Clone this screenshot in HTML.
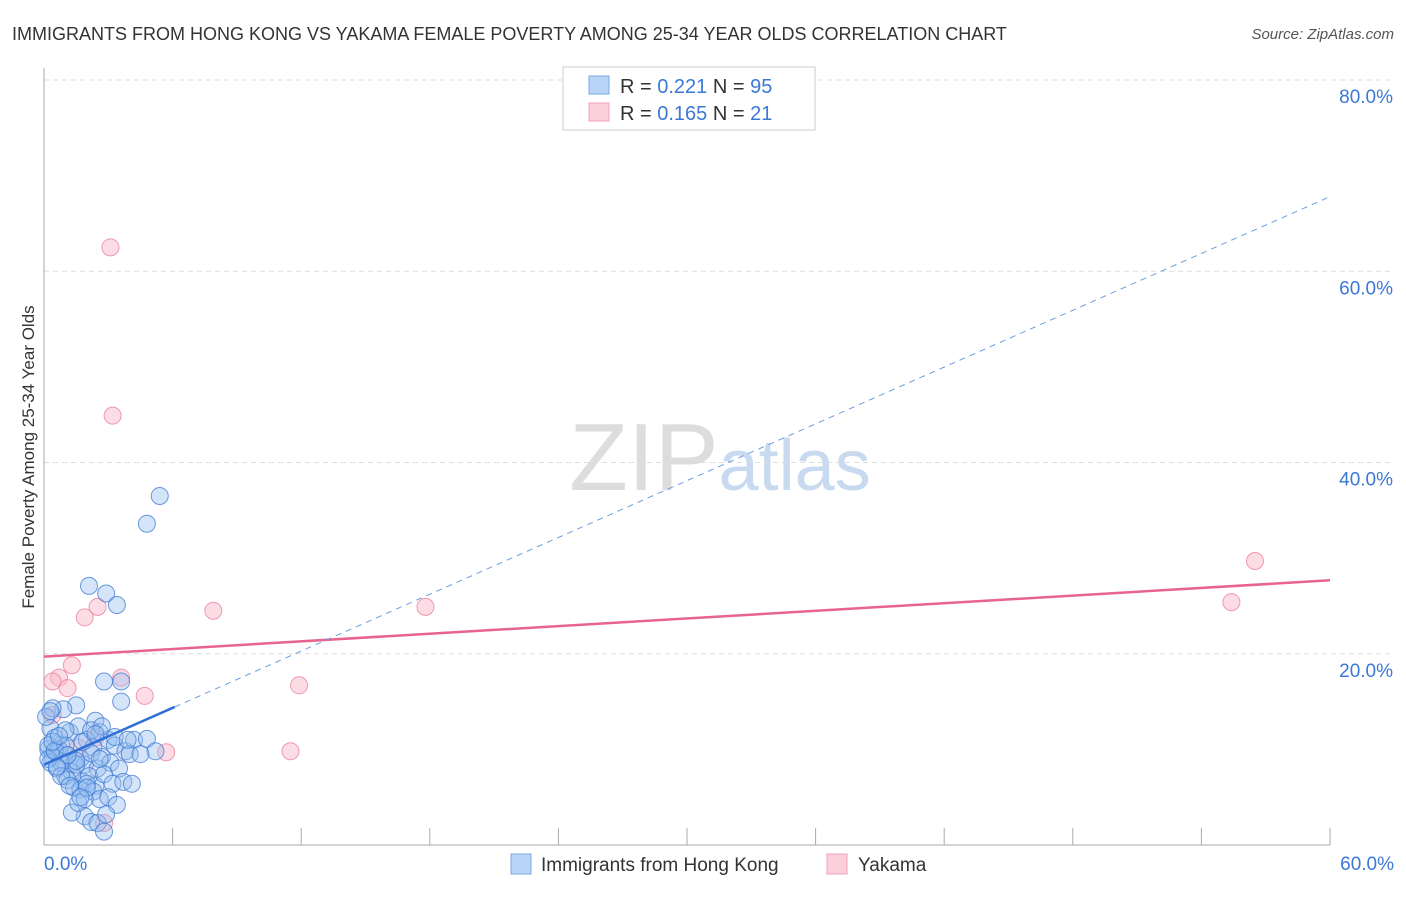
<!DOCTYPE html>
<html><head><meta charset="utf-8"><style>
body{margin:0;background:#fff;font-family:"Liberation Sans",sans-serif}
svg text{font-family:"Liberation Sans",sans-serif}
</style></head><body>
<svg id="chart" width="1406" height="892" xmlns="http://www.w3.org/2000/svg">
<text x="12" y="40" font-size="18" fill="#333">IMMIGRANTS FROM HONG KONG VS YAKAMA FEMALE POVERTY AMONG 25-34 YEAR OLDS CORRELATION CHART</text>
<text x="1394" y="39" font-size="15" fill="#555" text-anchor="end" font-style="italic">Source: ZipAtlas.com</text>
<text transform="translate(34,457) rotate(-90)" font-size="17" fill="#333" text-anchor="middle">Female Poverty Among 25-34 Year Olds</text>
<text x="720" y="490" font-size="96" text-anchor="middle" fill="#ddd" font-family="Liberation Serif">ZIP<tspan fill="#c8daf0" font-family="Liberation Sans" font-size="72">atlas</tspan></text>
<g id="grid"></g><g id="marks"></g>
<g>
<rect x="563" y="67" width="252" height="63" fill="#fff" stroke="#ccc"/>
<rect x="589" y="76" width="20" height="18" fill="#b8d4f6" stroke="#7aaae6"/>
<text x="620" y="93" font-size="20" fill="#333">R = <tspan fill="#3b78d8">0.221</tspan>   N = <tspan fill="#3b78d8">95</tspan></text>
<rect x="589" y="103" width="20" height="18" fill="#fbd0dc" stroke="#f0a0b8"/>
<text x="620" y="120" font-size="20" fill="#333">R = <tspan fill="#3b78d8">0.165</tspan>   N =  <tspan fill="#3b78d8">21</tspan></text>
</g>
<g>
<rect x="511" y="854" width="20" height="20" fill="#b8d4f6" stroke="#7aaae6"/>
<text x="541" y="871" font-size="19" fill="#333">Immigrants from Hong Kong</text>
<rect x="827" y="854" width="20" height="20" fill="#fbd0dc" stroke="#f0a0b8"/>
<text x="858" y="871" font-size="19" fill="#333">Yakama</text>
</g>
</svg>
<script>
const yTicks=[20,40,60,80];
const xTickLabels=["0.0%","60.0%"];
const blueX=[5.4,4.8,2.1,2.9,3.4,2.8,3.6,3.6,1.5,0.9,0.4,2.4,0.3,0.5,0.8,1.2,1.6,2.0,2.3,2.6,3.0,3.3,3.8,4.2,4.8,5.2,0.2,0.4,0.6,0.9,1.1,1.4,1.7,1.9,2.2,2.5,2.7,3.1,3.5,4.0,4.5,0.3,0.6,1.0,1.3,1.5,1.8,2.1,2.4,2.8,3.2,3.7,0.5,0.8,1.1,1.4,1.7,2.0,2.3,2.6,3.0,3.4,4.1,1.9,2.2,2.5,2.8,1.3,1.6,1.9,0.2,0.1,0.3,0.7,1.0,0.2,0.5,0.8,1.2,2.2,2.7,3.3,3.9,1.0,1.5,2.0,0.4,0.7,1.1,1.8,2.6,0.6,2.9,1.7,2.4];
const blueY=[36.5,33.6,27.1,26.3,25.1,17.1,17.1,15.0,14.6,14.2,14.3,13.0,12.2,11.2,10.5,11.8,12.4,11.0,10.2,11.8,11.0,10.4,9.8,11.0,11.1,9.8,10.0,9.2,9.8,8.8,9.4,8.6,9.0,8.4,9.6,8.0,9.2,8.6,8.0,9.5,9.5,8.6,8.0,7.2,7.6,8.4,6.6,7.2,6.2,7.4,6.4,6.6,9.9,8.6,6.8,6.0,5.8,6.4,5.6,4.8,5.0,4.2,6.4,3.0,2.4,2.3,1.4,3.4,4.4,4.8,10.4,13.4,14.0,10.0,12.0,9.0,9.8,7.2,6.2,12.0,12.4,11.3,11.0,10.4,8.8,6.0,10.8,11.4,9.4,10.8,9.0,8.2,3.2,5.0,11.6];
const pinkX=[3.1,3.2,56.5,55.4,17.8,7.9,2.5,1.9,1.3,0.7,0.4,1.1,11.9,3.6,4.7,5.7,11.5,1.6,2.8,0.4,2.4];
const pinkY=[62.5,44.9,29.7,25.4,24.9,24.5,24.9,23.8,18.8,17.5,17.1,16.4,16.7,17.5,15.6,9.7,9.8,10.2,2.3,13.6,11.2];
const blueTrend=[8.4,0.99];   // intercept, slope
const pinkTrend=[19.7,0.133];
const X=v=>44+v*(1330-44)/60, Y=v=>845-v*(845-80)/80;
const NS="http://www.w3.org/2000/svg";
function mk(t,a,p){const e=document.createElementNS(NS,t);for(const k in a)e.setAttribute(k,a[k]);p.appendChild(e);return e;}
const g=document.getElementById('grid'),m=document.getElementById('marks');
yTicks.forEach(t=>{
 const l=mk('line',{x1:44,x2:1394,y1:Y(t),y2:Y(t),stroke:'#ddd','stroke-dasharray':'5,4'},g);
 
 
 const tx=mk('text',{x:1393,y:Y(t)+23,'font-size':19,fill:'#3b78d8','text-anchor':'end'},g);tx.textContent=t.toFixed(1)+'%';
 
 
});
const ax=mk('line',{x1:44,x2:44,y1:68,y2:845,stroke:'#aaa'},g);


const bx=mk('line',{x1:44,x2:1330,y1:845,y2:845,stroke:'#aaa'},g);


for(let i=1;i<=10;i++){const t=mk('line',{x1:X(i*6),x2:X(i*6),y1:828,y2:845,stroke:'#aaa'},g);
 
 }
const xl=mk('text',{x:44,y:870,'font-size':19,fill:'#3b78d8'},g);xl.textContent=xTickLabels[0];


const xr=mk('text',{x:1394,y:870,'font-size':19,fill:'#3b78d8','text-anchor':'end'},g);xr.textContent=xTickLabels[1];


pinkX.forEach((v,i)=>{const c=mk('circle',{cx:X(v),cy:Y(pinkY[i]),r:8.5,fill:'rgba(248,180,200,0.45)',stroke:'rgba(236,130,160,0.8)'},m);
 
 });
blueX.forEach((v,i)=>{const c=mk('circle',{cx:X(v),cy:Y(blueY[i]),r:8.5,fill:'rgba(150,190,240,0.4)',stroke:'rgba(60,120,210,0.75)'},m);
 
 });
const pl=mk('line',{x1:X(0),y1:Y(pinkTrend[0]),x2:X(60),y2:Y(pinkTrend[0]+60*pinkTrend[1]),stroke:'#e8638f','stroke-width':2.5},m);


const bd=mk('line',{x1:X(6.1),y1:Y(blueTrend[0]+6.1*blueTrend[1]),x2:X(60),y2:Y(blueTrend[0]+60*blueTrend[1]),stroke:'#6a9fe0','stroke-width':1,'stroke-dasharray':'6,5'},m);


const bl=mk('line',{x1:X(0),y1:Y(blueTrend[0]),x2:X(6.1),y2:Y(blueTrend[0]+6.1*blueTrend[1]),stroke:'#2f6fd6','stroke-width':2.5},m);


</script>
</body></html>
